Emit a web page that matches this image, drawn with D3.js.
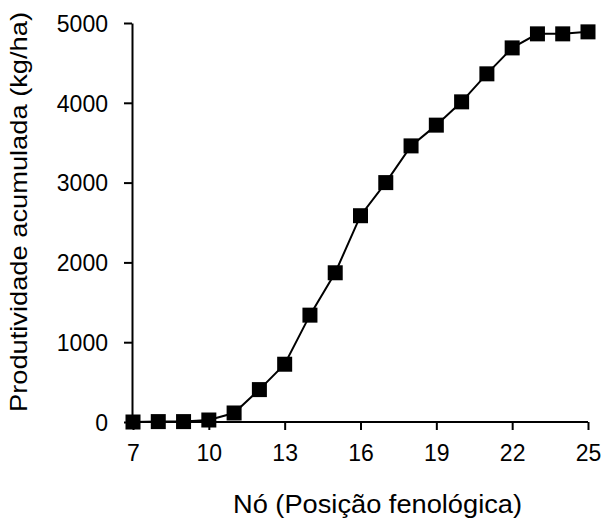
<!DOCTYPE html>
<html><head><meta charset="utf-8">
<script src="https://cdn.jsdelivr.net/npm/d3@7"></script>
<style>body{margin:0;background:#fff}svg{display:block}text{font-family:"Liberation Sans",Arial,sans-serif}</style>
</head><body>
<svg id="c" width="605" height="525"></svg>
<script>
const nodes = [7,8,9,10,11,12,13,14,15,16,17,18,19,20,21,22,23,24,25];
const yieldVals = [0,5,5,25,113,406,724,1339,1870,2585,3000,3460,3720,4012,4363,4688,4864,4864,4889];
const xTicks = [7,10,13,16,19,22,25];
const yTicks = [0,1000,2000,3000,4000,5000];
const xTitle = "Nó (Posição fenológica)";
const yTitle = "Produtividade acumulada (kg/ha)";

const svg = d3.select("#c");
const x = d3.scaleLinear().domain([7,25]).range([133,588]);
const y = d3.scaleLinear().domain([0,5000]).range([422,23]);

const gx = svg.append("g").attr("transform","translate(0,422)")
  .call(d3.axisBottom(x).tickValues(xTicks).tickFormat(d3.format("d")).tickSize(8).tickPadding(15).tickSizeOuter(0));
gx.select(".domain").attr("d", `M${x(7)-1},0H${x(25)}`);
const gy = svg.append("g").attr("transform","translate(132,0)")
  .call(d3.axisLeft(y).tickValues(yTicks).tickFormat(d3.format("d")).tickSize(8).tickPadding(16).tickSizeOuter(0));
[gx,gy].forEach(g=>{
  g.selectAll("path,line").attr("stroke","#000").attr("stroke-width",2);
  g.selectAll("text").attr("font-size",23).attr("fill","#000").attr("font-family",'"Liberation Sans",Arial,sans-serif');
});
gy.selectAll("text").attr("dy","0.36em");

const pts = nodes.map((n,i)=>[n,yieldVals[i]]);
svg.append("path").datum(pts)
  .attr("fill","none").attr("stroke","#000").attr("stroke-width",2)
  .attr("d", d3.line().x(d=>x(d[0])).y(d=>y(d[1])));
const s = 15;
svg.append("g").selectAll("rect").data(pts).join("rect")
  .attr("x",d=>x(d[0])-s/2).attr("y",d=>y(d[1])-s/2)
  .attr("width",s).attr("height",s).attr("fill","#000");

svg.append("text").attr("x",233).attr("y",513)
  .attr("font-size",25).attr("fill","#000")
  .attr("textLength",289).attr("lengthAdjust","spacingAndGlyphs").text(xTitle);
svg.append("text").attr("transform","translate(27,412) rotate(-90)")
  .attr("font-size",24).attr("fill","#000")
  .attr("textLength",400).attr("lengthAdjust","spacingAndGlyphs").text(yTitle);
</script>
</body></html>
